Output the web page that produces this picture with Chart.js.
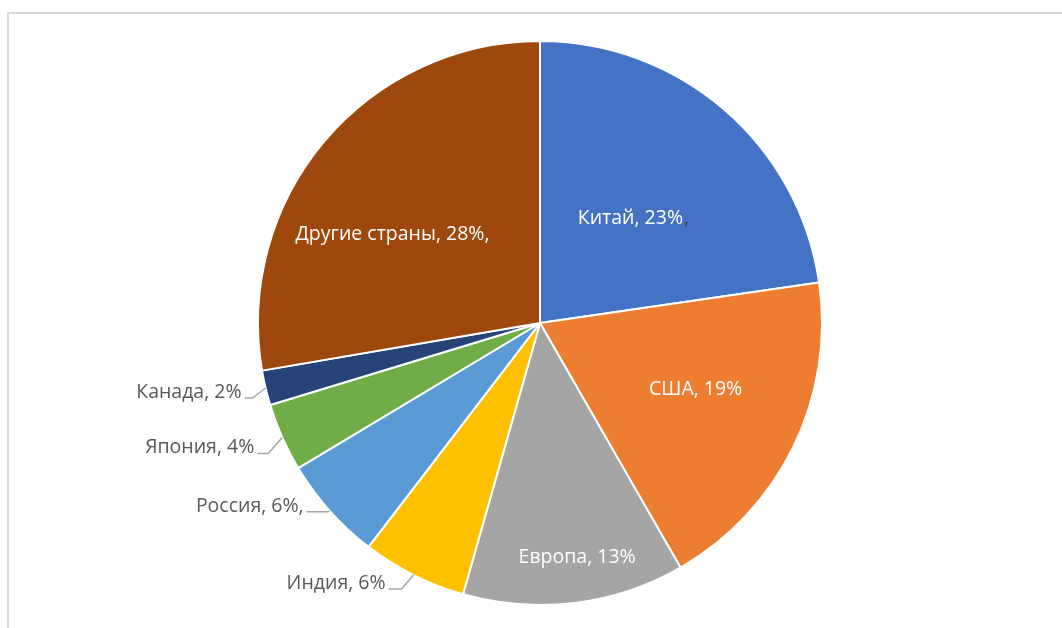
<!DOCTYPE html>
<html>
<head>
<meta charset="utf-8">
<script src="https://cdn.jsdelivr.net/npm/chart.js@4"></script>
<style>
  html, body { margin: 0; padding: 0; background: #fff; overflow: hidden; }
  #frame { position: absolute; left: 7px; top: 12px; width: 1100px; height: 700px; border: 2px solid #d9d9d9; }
  #chart { position: absolute; left: 0; top: 0; }
</style>
</head>
<body>
<div id="frame"></div>
<canvas id="chart" width="1062" height="628"></canvas>
<script>
// данные
const strany = ["Китай", "США", "Европа", "Индия", "Россия", "Япония", "Канада", "Другие страны"];
const doli = [22.7, 19.0, 12.7, 6.0, 6.0, 3.9, 2.0, 27.7];
const hvost = ["", "", "", "", ",", "", "", ","];
const cveta = ["#4472C4", "#ED7D31", "#A5A5A5", "#FFC000", "#5B9BD5", "#70AD47", "#264478", "#9E480E"];

// где ставить подписи: внутри (доля радиуса, сдвиг угла в градусах) или снаружи с выноской
const podpisi = [
  { inside: true, f: 0.49, shift: 0, extra: "," },
  { inside: true, f: 0.6, shift: -2.8 },
  { inside: true, f: 0.84, shift: -2 },
  { inside: false, kx: -12, ky: 14, len: 13 },
  { inside: false, kx: -2, ky: 1, len: 21 },
  { inside: false, kx: -14, ky: 16, len: 11 },
  { inside: false, kx: -13, ky: 10, len: 8 }
  ,
  { inside: true, f: 0.61, shift: -9.2 }
];

const FONT = "19.5px 'Open Sans'";

const textPlugin = {
  id: "textPlugin",
  afterDatasetsDraw(chart) {
    const ctx = chart.ctx;
    const meta = chart.getDatasetMeta(0);
    const total = doli.reduce((a, b) => a + b, 0);
    ctx.save();
    ctx.font = FONT;
    meta.data.forEach((arc, i) => {
      const p = arc.getProps(["x", "y", "startAngle", "endAngle", "outerRadius"], true);
      const mid = (p.startAngle + p.endAngle) / 2;
      const txt = strany[i] + ", " + Math.round(doli[i] / total * 100) + "%" + hvost[i];
      const o = podpisi[i];
      if (o.inside) {
        const a = mid + o.shift * Math.PI / 180;
        const tx = p.x + Math.cos(a) * p.outerRadius * o.f;
        const ty = p.y + Math.sin(a) * p.outerRadius * o.f;
        ctx.fillStyle = "#ffffff";
        ctx.textAlign = "center";
        ctx.textBaseline = "middle";
        ctx.fillText(txt, tx, ty);
        if (o.extra) {
          const w = ctx.measureText(txt).width;
          ctx.fillStyle = "#404040";
          ctx.textAlign = "left";
          ctx.fillText(o.extra, tx + w / 2 + 1, ty);
        }
      } else {
        const ex = p.x + Math.cos(mid) * p.outerRadius;
        const ey = p.y + Math.sin(mid) * p.outerRadius;
        const kx = ex + o.kx, ky = ey + o.ky;
        const sx = kx - o.len;
        ctx.strokeStyle = "#a6a6a6";
        ctx.lineWidth = 1.5;
        ctx.beginPath();
        ctx.moveTo(ex, ey);
        ctx.lineTo(kx, ky);
        ctx.lineTo(sx, ky);
        ctx.stroke();
        ctx.fillStyle = "#595959";
        ctx.textAlign = "right";
        ctx.textBaseline = "alphabetic";
        ctx.fillText(txt, sx - 3, ky);
      }
    });
    ctx.restore();
  }
};

new Chart(document.getElementById("chart"), {
  type: "pie",
  data: {
    labels: strany,
    datasets: [{
      data: doli,
      backgroundColor: cveta,
      borderColor: "#ffffff",
      borderWidth: 2
    }]
  },
  options: {
    responsive: false,
    animation: false,
    layout: { padding: { top: 40, bottom: 22, left: 18, right: 0 } },
    plugins: {
      legend: { display: false },
      tooltip: { enabled: false }
    }
  },
  plugins: [textPlugin]
});
</script>
</body>
</html>
